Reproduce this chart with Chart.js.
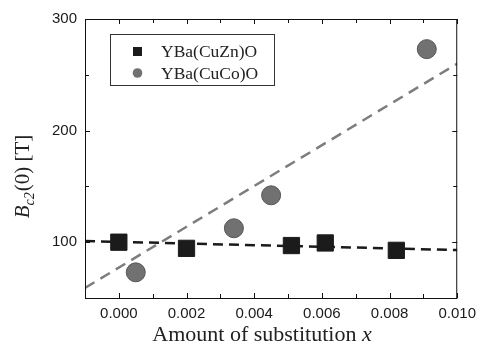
<!DOCTYPE html>
<html>
<head>
<meta charset="utf-8">
<script src="https://cdn.jsdelivr.net/npm/chart.js@4.4.1/dist/chart.umd.min.js"></script>
<style>
  body { margin: 0; background: #fff; }
  canvas { display: block; }
</style>
</head>
<body>
<canvas id="myChart" width="483" height="342"></canvas>
<script>
// Values
const seriesNames = ["YBa(CuZn)O", "YBa(CuCo)O"];
const znX = [0.0000, 0.0020, 0.0051, 0.0061, 0.0082];
const znY = [100, 94.5, 97, 99.3, 92.7];
const coX = [0.0005, 0.0034, 0.0045, 0.0091];
const coY = [73, 112.5, 142, 273];
// dashed fit lines, end points at the axis limits
const znFitX = [-0.001, 0.010];
const znFitY = [101, 93];
const coFitX = [-0.001, 0.010];
const coFitY = [59, 260];
// tick labels
const xTickLabels = ["0.000", "0.002", "0.004", "0.006", "0.008", "0.010"];
const yTickLabels = ["100", "200", "300"];

const ZN_COLOR = "#1b1b1b";
const CO_COLOR = "#717171";
const CO_EDGE = "#555555";

function pts(xs, ys) {
  return xs.map((x, i) => ({ x: x, y: ys[i] }));
}

function xLabel(v) {
  const s = (Math.round(v * 1000) / 1000).toFixed(3);
  return xTickLabels.includes(s) ? s : "";
}

function yLabel(v) {
  const s = String(Math.round(v));
  return yTickLabels.includes(s) ? s : "";
}

// frame, inward ticks, legend and axis titles
const decorations = {
  id: "decorations",
  afterDraw(chart) {
    const ctx = chart.ctx;
    const a = chart.chartArea;
    const xs = chart.scales.x;
    const ys = chart.scales.y;
    ctx.save();
    ctx.strokeStyle = "#111";
    ctx.lineWidth = 1;
    ctx.strokeRect(a.left + 0.5, a.top + 0.5, a.right - a.left - 1, a.bottom - a.top);

    ctx.beginPath();
    xs.ticks.forEach((t) => {
      const px = Math.round(xs.getPixelForValue(t.value)) + 0.5;
      const len = xLabel(t.value) ? 5 : 4;
      ctx.moveTo(px, a.bottom);
      ctx.lineTo(px, a.bottom - len);
      ctx.moveTo(px, a.top);
      ctx.lineTo(px, a.top + len);
    });
    ys.ticks.forEach((t) => {
      const py = Math.round(ys.getPixelForValue(t.value)) + 0.5;
      const len = yLabel(t.value) ? 5 : 4;
      ctx.moveTo(a.left, py);
      ctx.lineTo(a.left + len, py);
      ctx.moveTo(a.right, py);
      ctx.lineTo(a.right - len, py);
    });
    ctx.stroke();

    // legend box
    ctx.fillStyle = "#fff";
    ctx.fillRect(110, 34, 165, 51);
    ctx.strokeStyle = "#333";
    ctx.strokeRect(110.5, 34.5, 164, 51);
    ctx.fillStyle = ZN_COLOR;
    ctx.fillRect(133, 47, 9, 9);
    ctx.beginPath();
    ctx.arc(137.5, 73, 4.8, 0, Math.PI * 2);
    ctx.fillStyle = CO_COLOR;
    ctx.fill();
    ctx.fillStyle = "#222";
    ctx.font = "17.5px 'Liberation Serif'";
    ctx.textBaseline = "alphabetic";
    ctx.textAlign = "left";
    ctx.fillText(seriesNames[0], 161, 57);
    ctx.fillText(seriesNames[1], 161, 79);

    // x title
    ctx.font = "22px 'Liberation Serif'";
    const part1 = "Amount of substitution ";
    const w1 = ctx.measureText(part1).width;
    ctx.font = "italic 22px 'Liberation Serif'";
    const w2 = ctx.measureText("x").width;
    let sx = 262 - (w1 + w2) / 2;
    ctx.font = "22px 'Liberation Serif'";
    ctx.fillText(part1, sx, 341);
    ctx.font = "italic 22px 'Liberation Serif'";
    ctx.fillText("x", sx + w1, 341);

    // y title B_c2(0) [T]
    ctx.translate(29, 177);
    ctx.rotate(-Math.PI / 2);
    const bFont = "italic 21px 'Liberation Serif'";
    const subFont = "italic 14px 'Liberation Serif'";
    const restFont = "21px 'Liberation Serif'";
    ctx.font = bFont;
    const wb = ctx.measureText("B").width;
    ctx.font = subFont;
    const ws = ctx.measureText("c2").width;
    ctx.font = restFont;
    const wr = ctx.measureText("(0) [T]").width;
    let lx = -(wb + ws + wr) / 2;
    ctx.font = bFont;
    ctx.fillText("B", lx, 0);
    ctx.font = subFont;
    ctx.fillText("c2", lx + wb, 5);
    ctx.font = restFont;
    ctx.fillText("(0) [T]", lx + wb + ws + 1, 0);
    ctx.restore();
  },
};

const ctx = document.getElementById("myChart").getContext("2d");
const myChart = new Chart(ctx, {
  type: "scatter",
  data: {
    datasets: [
      {
        label: seriesNames[0],
        data: pts(znX, znY),
        pointStyle: "rect",
        pointRadius: 11.5,
        backgroundColor: ZN_COLOR,
        borderColor: ZN_COLOR,
        borderWidth: 1,
      },
      {
        label: seriesNames[1],
        data: pts(coX, coY),
        pointStyle: "circle",
        pointRadius: 9.5,
        backgroundColor: CO_COLOR,
        borderColor: CO_EDGE,
        borderWidth: 1,
      },
      {
        label: "Zn fit",
        data: pts(znFitX, znFitY),
        showLine: true,
        pointRadius: 0,
        borderColor: "#1a1a1a",
        borderWidth: 2.5,
        borderDash: [10, 6],
      },
      {
        label: "Co fit",
        data: pts(coFitX, coFitY),
        showLine: true,
        pointRadius: 0,
        borderColor: "#7d7d7d",
        borderWidth: 2.5,
        borderDash: [11, 7],
      },
    ],
  },
  options: {
    responsive: false,
    animation: false,
    layout: { padding: { left: 0, right: 20, top: 19, bottom: 0 } },
    plugins: {
      legend: { display: false },
      tooltip: { enabled: false },
    },
    scales: {
      x: {
        type: "linear",
        min: -0.001,
        max: 0.010,
        grid: { display: false, drawTicks: false },
        border: { display: false },
        ticks: {
          stepSize: 0.001,
          autoSkip: false,
          maxRotation: 0,
          padding: 7,
          color: "#1a1a1a",
          font: { family: "'Liberation Sans'", size: 15 },
          callback: xLabel,
        },
        afterFit(scale) {
          scale.height = 44;
        },
      },
      y: {
        min: 50,
        max: 300,
        grid: { display: false, drawTicks: false },
        border: { display: false },
        ticks: {
          stepSize: 50,
          autoSkip: false,
          padding: 8,
          color: "#1a1a1a",
          font: { family: "'Liberation Sans'", size: 15 },
          callback: yLabel,
        },
        afterFit(scale) {
          scale.width = 85;
        },
      },
    },
  },
  plugins: [decorations],
});
</script>
</body>
</html>
